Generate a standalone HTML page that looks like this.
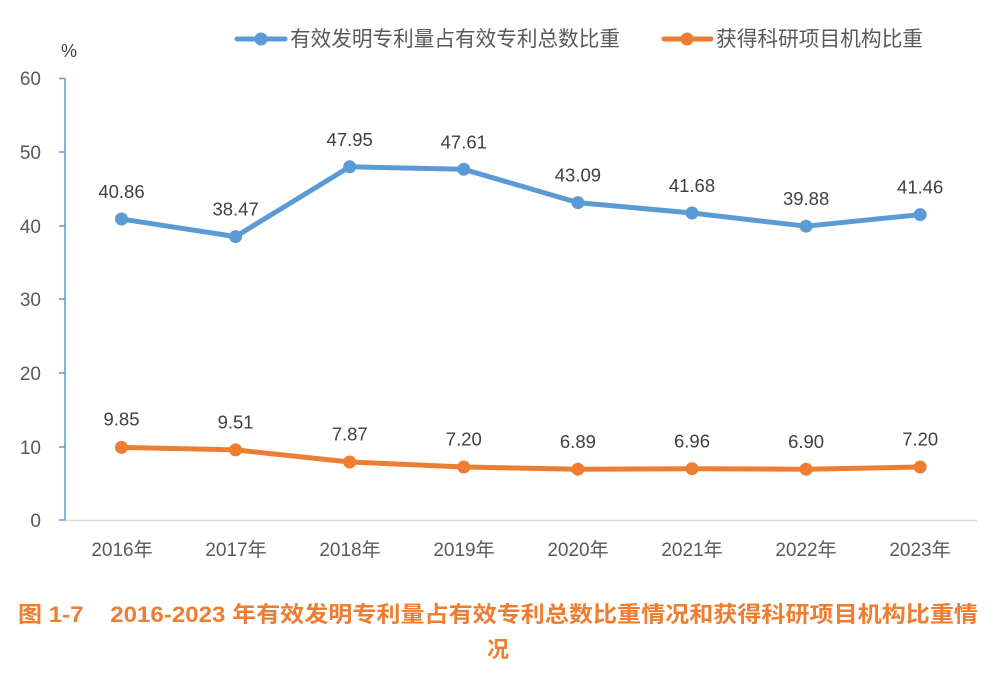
<!DOCTYPE html>
<html>
<head>
<meta charset="utf-8">
<style>
html,body{margin:0;padding:0;background:#fff;}
svg{display:block;}
text{font-family:"Liberation Sans","Noto Sans CJK SC",sans-serif;}
</style>
</head>
<body>
<svg width="1004" height="675" viewBox="0 0 1004 675" xmlns="http://www.w3.org/2000/svg">
  <rect width="1004" height="675" fill="#fff"/>
  <!-- Legend -->
  <line x1="237" y1="39" x2="285" y2="39" stroke="#5b9bd5" stroke-width="5" stroke-linecap="round"/>
  <circle cx="261" cy="39" r="6.5" fill="#5b9bd5"/>
  <text x="290" y="46" font-size="21" fill="#595959" textLength="330" lengthAdjust="spacingAndGlyphs">有效发明专利量占有效专利总数比重</text>
  <line x1="664" y1="39" x2="711" y2="39" stroke="#ed7d31" stroke-width="5" stroke-linecap="round"/>
  <circle cx="687" cy="39" r="6.5" fill="#ed7d31"/>
  <text x="716" y="46" font-size="21" fill="#595959" textLength="207" lengthAdjust="spacingAndGlyphs">获得科研项目机构比重</text>

  <!-- % -->
  <text x="61" y="57" font-size="18" fill="#404040">%</text>

  <!-- Y axis -->
  <line x1="65" y1="78" x2="65" y2="520" stroke="#5b9bd5" stroke-width="1.5"/>
  <g stroke="#5b9bd5" stroke-width="1.5">
    <line x1="59" y1="78.5" x2="65" y2="78.5"/>
    <line x1="59" y1="152" x2="65" y2="152"/>
    <line x1="59" y1="226" x2="65" y2="226"/>
    <line x1="59" y1="299" x2="65" y2="299"/>
    <line x1="59" y1="373" x2="65" y2="373"/>
    <line x1="59" y1="447" x2="65" y2="447"/>
    <line x1="59" y1="520" x2="65" y2="520"/>
  </g>
  <g font-size="19" fill="#595959" text-anchor="end">
    <text x="41" y="85">60</text>
    <text x="41" y="159">50</text>
    <text x="41" y="233">40</text>
    <text x="41" y="306">30</text>
    <text x="41" y="380">20</text>
    <text x="41" y="454">10</text>
    <text x="41" y="527">0</text>
  </g>
  <!-- X axis -->
  <line x1="65" y1="520.5" x2="977" y2="520.5" stroke="#d9d9d9" stroke-width="1.5"/>
  <g font-size="19" fill="#595959" text-anchor="middle">
    <text x="122" y="556">2016年</text>
    <text x="236" y="556">2017年</text>
    <text x="350" y="556">2018年</text>
    <text x="464" y="556">2019年</text>
    <text x="578" y="556">2020年</text>
    <text x="692" y="556">2021年</text>
    <text x="806" y="556">2022年</text>
    <text x="920" y="556">2023年</text>
  </g>

  <!-- Blue series -->
  <polyline fill="none" stroke="#5b9bd5" stroke-width="5" stroke-linejoin="round"
    points="121.5,219 235.6,236.6 349.7,166.8 463.8,169.3 577.9,202.6 692,213 806.1,226.2 920.2,214.6"/>
  <g fill="#5b9bd5">
    <circle cx="121.5" cy="219" r="6.5"/>
    <circle cx="235.6" cy="236.6" r="6.5"/>
    <circle cx="349.7" cy="166.8" r="6.5"/>
    <circle cx="463.8" cy="169.3" r="6.5"/>
    <circle cx="577.9" cy="202.6" r="6.5"/>
    <circle cx="692" cy="213" r="6.5"/>
    <circle cx="806.1" cy="226.2" r="6.5"/>
    <circle cx="920.2" cy="214.6" r="6.5"/>
  </g>
  <g font-size="18.5" fill="#404040" text-anchor="middle">
    <text x="121.5" y="198">40.86</text>
    <text x="235.6" y="215.5">38.47</text>
    <text x="349.7" y="146">47.95</text>
    <text x="463.8" y="148.5">47.61</text>
    <text x="577.9" y="181.5">43.09</text>
    <text x="692" y="192">41.68</text>
    <text x="806.1" y="205">39.88</text>
    <text x="920.2" y="193.5">41.46</text>
  </g>

  <!-- Orange series -->
  <polyline fill="none" stroke="#ed7d31" stroke-width="5" stroke-linejoin="round"
    points="121.5,447.4 235.6,449.9 349.7,462 463.8,467 577.9,469.2 692,468.7 806.1,469.2 920.2,467"/>
  <g fill="#ed7d31">
    <circle cx="121.5" cy="447.4" r="6.5"/>
    <circle cx="235.6" cy="449.9" r="6.5"/>
    <circle cx="349.7" cy="462" r="6.5"/>
    <circle cx="463.8" cy="467" r="6.5"/>
    <circle cx="577.9" cy="469.2" r="6.5"/>
    <circle cx="692" cy="468.7" r="6.5"/>
    <circle cx="806.1" cy="469.2" r="6.5"/>
    <circle cx="920.2" cy="467" r="6.5"/>
  </g>
  <g font-size="18.5" fill="#404040" text-anchor="middle">
    <text x="121.5" y="425.5">9.85</text>
    <text x="235.6" y="428.5">9.51</text>
    <text x="349.7" y="440.5">7.87</text>
    <text x="463.8" y="445.5">7.20</text>
    <text x="577.9" y="448">6.89</text>
    <text x="692" y="447.5">6.96</text>
    <text x="806.1" y="448">6.90</text>
    <text x="920.2" y="445.5">7.20</text>
  </g>

  <!-- Caption -->
  <text x="18" y="622" font-size="22" font-weight="bold" fill="#ed7d31" textLength="960" lengthAdjust="spacingAndGlyphs" xml:space="preserve">图 1-7    2016-2023 年有效发明专利量占有效专利总数比重情况和获得科研项目机构比重情</text>
  <text x="498" y="657" font-size="22" font-weight="bold" fill="#ed7d31" text-anchor="middle">况</text>
</svg>
</body>
</html>
